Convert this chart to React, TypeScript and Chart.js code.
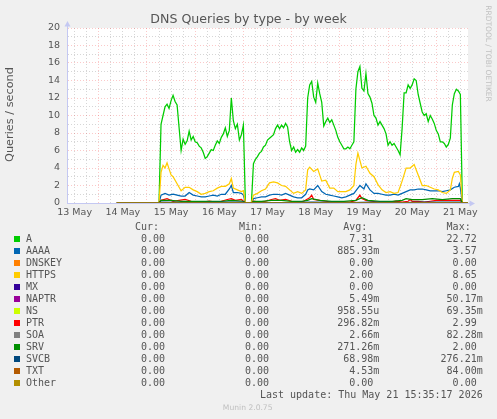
import React, { useEffect, useRef } from 'react';
import { Chart, registerables } from 'chart.js';

Chart.register(...registerables);

const TITLE = 'DNS Queries by type - by week';
const Y_TITLE = 'Queries / second';
const WATERMARK = 'RRDTOOL / TOBI OETIKER';
const LAST_UPDATE = 'Last update: Thu May 21 15:35:17 2026';
const VERSION = 'Munin 2.0.75';

// x axis: hours since 13 May 00:00
const X_MIN = 8.2;
const X_MAX = 207.8;
const DAY_LABELS = ['13 May', '14 May', '15 May', '16 May', '17 May', '18 May', '19 May', '20 May', '21 May'];
const DAY_LABEL_HOURS = [12, 36, 60, 84, 108, 132, 156, 180, 204];
const Y_MIN = 0;
const Y_MAX = 20;

// hours where every series reads 0 (collection start / outage / end)
const ZERO_HOURS = [33, 54, 97, 100, 205, 207.8];

// A: hourly samples
const A_SEG1_START = 55;
const A_SEG1 = [
  9.0, 10.0, 11.0, 11.3, 10.8, 11.7, 12.3, 11.6, 11.2, 8.6,
  6.0, 7.3, 6.7, 7.1, 8.2, 7.2, 7.6, 7.0, 6.9, 6.5,
  6.3, 5.8, 5.1, 5.3, 5.7, 6.1, 6.0, 6.6, 7.1, 6.8,
  7.5, 7.9, 8.6, 7.6, 8.3, 12.0, 9.4, 8.5, 9.0, 7.2,
  7.8, 8.9,
];
const A_SEG2_START = 101;
const A_SEG2 = [
  4.5, 5.0, 5.3, 5.7, 5.9, 6.4, 6.6, 7.2, 7.4, 7.6,
  7.8, 8.5, 8.9, 8.5, 8.9, 8.6, 9.1, 8.7, 7.0, 6.0,
  6.4, 5.8, 6.1, 5.8, 6.3, 6.0, 6.5, 12.0, 13.5, 13.9,
  12.1, 11.5, 13.7, 12.5, 11.5, 8.8, 9.3, 9.7, 9.2, 9.5,
  8.9, 8.3, 7.5, 7.0, 6.6, 6.2, 6.2, 6.4, 6.2, 6.6,
  7.0, 13.0, 15.0, 15.6, 13.1, 12.8, 14.8, 12.5, 12.1, 11.4,
  10.0, 9.7, 8.9, 9.3, 8.9, 8.5, 7.9, 6.6, 7.0, 6.6,
  6.8, 6.4, 6.0, 5.5, 8.5, 12.6, 12.6, 13.5, 13.1, 13.5,
  14.2, 14.0, 12.4, 11.4, 10.4, 10.0, 10.2, 9.3, 10.0, 9.6,
  9.1, 8.3, 7.9, 7.0, 7.0, 6.8, 6.4, 6.7, 7.4, 11.2,
  12.5, 13.0, 12.8, 12.4,
];

const AAAA_POINTS: [number, number][] = [
  [55, 0.9], [57, 1.1], [59, 0.9], [61, 1.0], [63, 0.9], [65, 0.8], [67, 0.8], [69, 1.2], [71, 0.9], [73, 0.8],
  [75, 0.7], [77, 0.7], [79, 0.8], [81, 0.9], [83, 0.8], [85, 1.0], [87, 1.0], [89, 1.6], [90, 2.0], [91, 1.2],
  [93, 1.2], [95, 1.1], [96, 0.9],
  [101, 0.5], [103, 0.6], [105, 0.7], [107, 0.7], [109, 0.9], [111, 1.0], [113, 1.0], [115, 0.9], [117, 1.1],
  [119, 0.9], [121, 0.7], [123, 0.6], [125, 0.6], [127, 1.0], [128, 1.5], [129, 1.6], [131, 1.5], [133, 2.0],
  [135, 1.3], [137, 1.0], [139, 0.9], [141, 0.8], [143, 0.7], [145, 0.6], [147, 0.7], [149, 0.9], [151, 1.1],
  [153, 1.7], [154, 2.0], [156, 1.6], [157, 2.2], [159, 1.5], [161, 1.1], [163, 1.1], [165, 1.0], [167, 0.9],
  [169, 0.9], [171, 1.0], [173, 0.9], [175, 1.1], [177, 1.3], [179, 1.5], [181, 1.5], [183, 1.6], [185, 1.6],
  [187, 1.5], [189, 1.4], [191, 1.4], [193, 1.4], [195, 1.3], [197, 1.4], [199, 1.5], [201, 1.8], [203, 1.9],
  [203.5, 2.2], [204, 1.7],
];

const HTTPS_POINTS: [number, number][] = [
  [55, 3.5], [56, 4.3], [57, 4.0], [58, 4.6], [59, 3.9], [60, 3.2], [61, 3.0], [63, 2.2], [65, 1.4], [67, 1.8],
  [69, 1.8], [71, 1.5], [73, 1.3], [75, 1.0], [77, 1.1], [79, 1.3], [81, 1.4], [83, 1.7], [85, 1.9], [87, 1.9],
  [89, 2.2], [90, 2.8], [91, 1.7], [93, 1.5], [95, 1.3], [96, 1.4],
  [101, 0.9], [103, 1.1], [105, 1.4], [107, 1.6], [109, 2.3], [111, 2.4], [113, 2.3], [115, 2.0], [117, 1.9],
  [119, 1.5], [121, 1.1], [123, 1.3], [125, 1.1], [127, 1.5], [128, 3.8], [129, 4.1], [131, 3.6], [133, 3.9],
  [135, 2.5], [137, 2.6], [139, 1.7], [141, 1.7], [143, 1.3], [145, 1.3], [147, 1.3], [149, 1.5], [151, 2.0],
  [152, 4.4], [153, 5.7], [155, 4.0], [157, 4.2], [159, 3.4], [161, 3.0], [163, 2.1], [165, 1.5], [167, 1.2],
  [169, 1.3], [171, 1.1], [173, 1.2], [175, 2.5], [177, 4.0], [179, 4.0], [181, 4.4], [183, 3.2], [185, 2.0],
  [187, 2.0], [189, 1.8], [191, 1.6], [193, 1.5], [195, 1.2], [197, 1.1], [199, 1.5], [200, 2.8], [201, 3.5],
  [203, 3.6], [204, 3.2],
];

const PTR_POINTS: [number, number][] = [
  [55, 0.3], [58, 0.5], [61, 0.2], [64, 0.3], [67, 0.4], [70, 0.2], [73, 0.1], [76, 0.1], [79, 0.2], [82, 0.1],
  [85, 0.2], [88, 0.4], [90, 0.5], [92, 0.3], [95, 0.4], [96, 0.2],
  [101, 0.2], [104, 0.1], [107, 0.2], [110, 0.4], [112, 0.5], [114, 0.3], [117, 0.4], [120, 0.2], [123, 0.1],
  [126, 0.2], [129, 0.6], [130, 0.9], [131, 0.4], [134, 0.3], [137, 0.2], [140, 0.1], [143, 0.1], [146, 0.1],
  [149, 0.1], [152, 0.3], [153, 0.6], [154, 0.9], [155, 0.5], [157, 0.3], [160, 0.2], [163, 0.1], [166, 0.1],
  [169, 0.1], [172, 0.2], [175, 0.1], [178, 0.2], [179, 0.4], [180, 0.2], [183, 0.2], [186, 0.1], [189, 0.2],
  [192, 0.3], [195, 0.3], [198, 0.3], [201, 0.3], [204, 0.3],
];

const SRV_POINTS: [number, number][] = [
  [55, 0.3], [60, 0.3], [65, 0.2], [70, 0.2], [75, 0.2], [80, 0.2], [85, 0.2], [90, 0.3], [96, 0.2],
  [101, 0.2], [105, 0.2], [110, 0.3], [115, 0.3], [120, 0.2], [125, 0.2], [128, 0.3], [130, 0.5], [134, 0.3],
  [140, 0.2], [146, 0.2], [152, 0.3], [155, 0.6], [158, 0.3], [164, 0.2], [170, 0.2], [175, 0.3], [177, 0.5],
  [180, 0.4], [185, 0.4], [190, 0.5], [195, 0.4], [200, 0.5], [204, 0.5],
];

const SVCB_POINTS: [number, number][] = [
  [55, 0.1], [70, 0.05], [90, 0.1], [96, 0.1], [101, 0.05], [120, 0.05], [130, 0.1], [150, 0.05],
  [160, 0.1], [175, 0.05], [185, 0.1], [204, 0.1],
];

const SERIES_NAMES = ['A', 'AAAA', 'DNSKEY', 'HTTPS', 'MX', 'NAPTR', 'NS', 'PTR', 'SOA', 'SRV', 'SVCB', 'TXT', 'Other'];
const SERIES_COLORS = ['#00CC00', '#0066B3', '#FF8000', '#FFCC00', '#330099', '#990099', '#CCFF00', '#FF0000', '#808080', '#008F00', '#00487D', '#B35A00', '#B38F00'];
const CUR_VALUES = ['0.00', '0.00', '0.00', '0.00', '0.00', '0.00', '0.00', '0.00', '0.00', '0.00', '0.00', '0.00', '0.00'];
const MIN_VALUES = ['0.00', '0.00', '0.00', '0.00', '0.00', '0.00', '0.00', '0.00', '0.00', '0.00', '0.00', '0.00', '0.00'];
const AVG_VALUES = ['7.31', '885.93m', '0.00', '2.00', '0.00', '5.49m', '958.55u', '296.82m', '2.66m', '271.26m', '68.98m', '4.53m', '0.00'];
const MAX_VALUES = ['22.72', '3.57', '0.00', '8.65', '0.00', '50.17m', '69.35m', '2.99', '82.28m', '2.00', '276.21m', '84.00m', '0.00'];
const STAT_HEADERS = ['Cur:', 'Min:', 'Avg:', 'Max:'];

const MAJOR_GRID = 'rgba(240, 60, 60, 0.28)';
const MINOR_GRID = '#D6D6D6';
const AXIS_COLOR = '#C4C8F2';
const TEXT_COLOR = '#555555';
const SANS = "'DejaVu Sans'";
const MONO = "'DejaVu Sans Mono'";

function hourly(start: number, values: number[]): [number, number][] {
  return values.map((v, i) => [start + i, v]);
}

function withZeros(pairs: [number, number][]) {
  const all: [number, number][] = [...pairs, ...ZERO_HOURS.map((h) => [h, 0] as [number, number])];
  all.sort((a, b) => a[0] - b[0]);
  return all.map(([x, y]) => ({ x, y }));
}

const SERIES_SOURCES: [number, number][][] = [
  [...hourly(A_SEG1_START, A_SEG1), ...hourly(A_SEG2_START, A_SEG2)],
  AAAA_POINTS,
  [],
  HTTPS_POINTS,
  [],
  [],
  [],
  PTR_POINTS,
  [],
  SRV_POINTS,
  SVCB_POINTS,
  [],
  [],
];

const decorPlugin = {
  id: 'muninDecor',
  beforeDraw(chart: any) {
    const { ctx, chartArea: a, width, height } = chart;
    ctx.save();
    ctx.fillStyle = '#F0F0F0';
    ctx.fillRect(0, 0, width, height);
    ctx.fillStyle = '#FFFFFF';
    ctx.fillRect(a.left, a.top, a.right - a.left, a.bottom - a.top);
    ctx.restore();
  },
  afterDraw(chart: any) {
    const { ctx, chartArea: a } = chart;
    ctx.save();
    // axis arrows
    ctx.fillStyle = AXIS_COLOR;
    ctx.strokeStyle = AXIS_COLOR;
    ctx.lineWidth = 1;
    ctx.beginPath();
    ctx.moveTo(a.left + 0.5, a.top);
    ctx.lineTo(a.left + 0.5, a.top - 2);
    ctx.stroke();
    ctx.beginPath();
    ctx.moveTo(a.left + 0.5, a.top - 7);
    ctx.lineTo(a.left - 2.5, a.top - 1.5);
    ctx.lineTo(a.left + 3.5, a.top - 1.5);
    ctx.closePath();
    ctx.fill();
    ctx.beginPath();
    ctx.moveTo(a.right, a.bottom + 0.5);
    ctx.lineTo(a.right + 2, a.bottom + 0.5);
    ctx.stroke();
    ctx.beginPath();
    ctx.moveTo(a.right + 7, a.bottom + 0.5);
    ctx.lineTo(a.right + 1.5, a.bottom - 2.5);
    ctx.lineTo(a.right + 1.5, a.bottom + 3.5);
    ctx.closePath();
    ctx.fill();

    // title
    ctx.fillStyle = TEXT_COLOR;
    ctx.font = `12.6px ${SANS}`;
    ctx.textAlign = 'center';
    ctx.textBaseline = 'alphabetic';
    ctx.fillText(TITLE, 248.5, 23.3);

    // y title
    ctx.save();
    ctx.translate(10.5, 114.5);
    ctx.rotate(-Math.PI / 2);
    ctx.font = `11.3px ${SANS}`;
    ctx.textBaseline = 'middle';
    ctx.fillText(Y_TITLE, 0, 0);
    ctx.restore();

    // watermark
    ctx.save();
    ctx.translate(487.5, 53.5);
    ctx.rotate(Math.PI / 2);
    ctx.font = `7.5px ${SANS}`;
    ctx.fillStyle = '#C0C0C0';
    ctx.textAlign = 'center';
    ctx.textBaseline = 'middle';
    ctx.fillText(WATERMARK, 0, 0);
    ctx.restore();

    // legend
    const cw = 6.02;
    const colEnds = [165, 269, 373.3, 476.7];
    ctx.font = `10px ${MONO}`;
    ctx.textBaseline = 'middle';
    ctx.fillStyle = TEXT_COLOR;
    ctx.textAlign = 'right';
    STAT_HEADERS.forEach((h, i) => ctx.fillText(h, colEnds[i] - cw, 227.3));
    const cols = [CUR_VALUES, MIN_VALUES, AVG_VALUES, MAX_VALUES];
    SERIES_NAMES.forEach((name, r) => {
      const y = 239.3 + r * 12;
      ctx.fillStyle = SERIES_COLORS[r];
      ctx.fillRect(14, Math.round(y) - 3, 6, 6);
      ctx.fillStyle = TEXT_COLOR;
      ctx.textAlign = 'left';
      ctx.fillText(name, 26, y);
      ctx.textAlign = 'right';
      cols.forEach((col, c) => {
        const s = col[r];
        const suffixed = /[a-z]$/.test(s);
        ctx.fillText(s, suffixed ? colEnds[c] + cw : colEnds[c], y);
      });
    });
    ctx.textAlign = 'right';
    ctx.fillText(LAST_UPDATE, 482.7, 395.7);

    ctx.font = `7.6px ${SANS}`;
    ctx.fillStyle = '#C0C0C0';
    ctx.textAlign = 'center';
    ctx.fillText(VERSION, 247.7, 408.3);
    ctx.restore();
  },
};

export default function App() {
  const canvasRef = useRef<HTMLCanvasElement | null>(null);

  useEffect(() => {
    const canvas = canvasRef.current;
    if (!canvas) return;
    const n = SERIES_NAMES.length;
    const chart = new Chart(canvas, {
      type: 'line',
      data: {
        datasets: SERIES_NAMES.map((name, i) => ({
          label: name,
          data: withZeros(SERIES_SOURCES[i]),
          borderColor: SERIES_COLORS[i],
          backgroundColor: SERIES_COLORS[i],
          borderWidth: 1.25,
          pointRadius: 0,
          fill: false,
          tension: 0,
          order: n - i,
        })),
      },
      options: {
        animation: false,
        responsive: false,
        devicePixelRatio: 1,
        events: [],
        layout: { padding: { left: 27, top: 28, right: 29, bottom: 196 } },
        plugins: { legend: { display: false }, tooltip: { enabled: false }, title: { display: false } },
        scales: {
          x: {
            type: 'linear',
            min: X_MIN,
            max: X_MAX,
            afterBuildTicks: (scale: any) => {
              const t: { value: number }[] = [];
              for (let h = 12; h <= 204; h += 6) t.push({ value: h });
              scale.ticks = t;
            },
            afterFit: (scale: any) => {
              scale.height = 20;
            },
            ticks: {
              autoSkip: false,
              maxRotation: 0,
              padding: 4,
              color: TEXT_COLOR,
              font: { family: SANS, size: 9.5 },
              callback: (v: any) => {
                const i = DAY_LABEL_HOURS.indexOf(Number(v));
                return i >= 0 ? DAY_LABELS[i] : '';
              },
            },
            grid: {
              drawTicks: false,
              lineWidth: 1,
              color: (c: any) => (c.tick && c.tick.value % 24 === 0 ? MAJOR_GRID : MINOR_GRID),
            },
            border: { display: true, color: AXIS_COLOR, width: 1, dash: [1, 2] },
          },
          y: {
            min: Y_MIN,
            max: Y_MAX,
            afterFit: (scale: any) => {
              scale.width = 40;
            },
            ticks: {
              stepSize: 1,
              autoSkip: false,
              padding: 7,
              color: TEXT_COLOR,
              font: { family: SANS, size: 9.5 },
              callback: (v: any) => (Number(v) % 2 === 0 ? String(v) : ''),
            },
            grid: {
              drawTicks: false,
              lineWidth: 1,
              color: (c: any) => {
                const v = c.tick ? c.tick.value : 0;
                if (v === 0) return 'rgba(0,0,0,0)';
                return v % 2 === 0 ? MAJOR_GRID : MINOR_GRID;
              },
            },
            border: { display: true, color: AXIS_COLOR, width: 1, dash: [1, 2] },
          },
        },
      },
      plugins: [decorPlugin],
    } as any);
    return () => chart.destroy();
  }, []);

  return (
    <div style={{ position: 'fixed', left: 0, top: 0, width: 497, height: 419, background: '#F0F0F0' }}>
      <canvas ref={canvasRef} width={497} height={419} style={{ display: 'block' }} />
    </div>
  );
}
